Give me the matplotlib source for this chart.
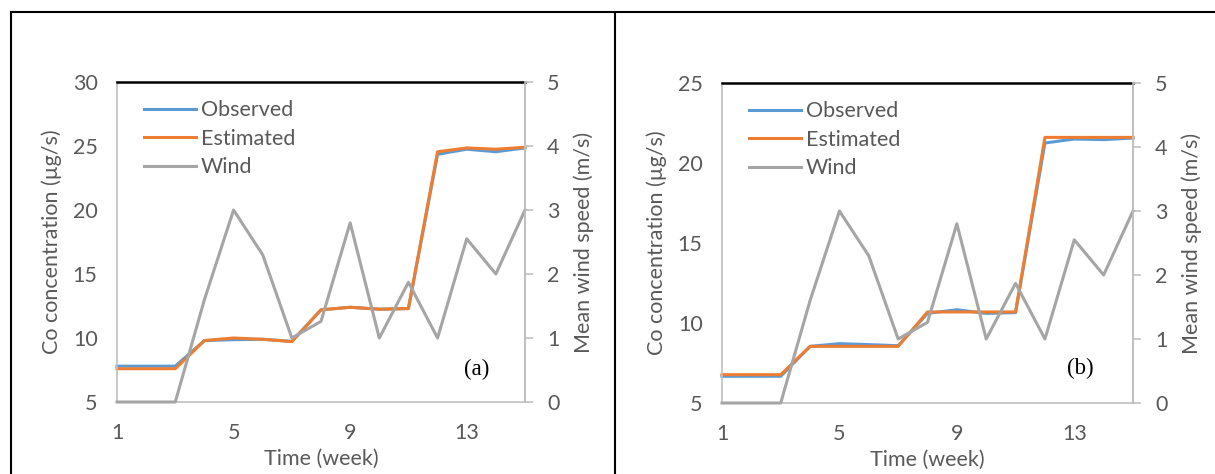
import matplotlib
matplotlib.use("Agg")
import matplotlib.pyplot as plt
from matplotlib.lines import Line2D

plt.rcParams['font.family'] = ['Lato', 'DejaVu Sans']

weeks = list(range(1, 16))
wind = [0, 0, 0, 1.6, 3.0, 2.3, 1.0, 1.26, 2.8, 1.0, 1.87, 1.0, 2.55, 2.0, 3.0]

obs_a = [7.8, 7.8, 7.8, 9.8, 9.87, 9.9, 9.74, 12.2, 12.4, 12.25, 12.3, 24.35, 24.75, 24.55, 24.85]
est_a = [7.6, 7.6, 7.6, 9.8, 10.0, 9.9, 9.72, 12.2, 12.4, 12.25, 12.3, 24.55, 24.85, 24.75, 24.9]

obs_b = [6.67, 6.67, 6.67, 8.54, 8.71, 8.65, 8.58, 10.6, 10.83, 10.6, 10.65, 21.25, 21.5, 21.46, 21.56]
est_b = [6.77, 6.77, 6.77, 8.54, 8.54, 8.54, 8.54, 10.69, 10.69, 10.69, 10.69, 21.6, 21.6, 21.6, 21.6]

panels = [
    dict(obs=obs_a, est=est_a, ylim=(5, 30), yticks=[5, 10, 15, 20, 25, 30], tag="(a)",
         tagpos=(0.882, 0.103), rect=[117 / 1215, 1 - 402 / 474, 408 / 1215, 320 / 474]),
    dict(obs=obs_b, est=est_b, ylim=(5, 25), yticks=[5, 10, 15, 20, 25], tag="(b)",
         tagpos=(0.871, 0.109), rect=[722 / 1215, 1 - 403 / 474, 411 / 1215, 320 / 474]),
]

BLUE, ORANGE, GRAY = '#5B9BD5', '#ED7D31', '#A5A5A5'
TXT = '#595959'
AX = '#BFBFBF'
FS = 15.5

fig = plt.figure(figsize=(12.15, 4.74), dpi=100)

# table borders
fig.add_artist(Line2D([11 / 1215, 1], [1 - 12 / 474] * 2, color='black', lw=1.5))
fig.add_artist(Line2D([11 / 1215] * 2, [0, 1 - 12 / 474], color='black', lw=1.5))
fig.add_artist(Line2D([615 / 1215] * 2, [0, 1 - 12 / 474], color='black', lw=1.5))

for p in panels:
    ax = fig.add_axes(p["rect"])
    l1, = ax.plot(weeks, p["obs"], color=BLUE, lw=2.2, label='Observed', clip_on=False)
    l2, = ax.plot(weeks, p["est"], color=ORANGE, lw=2.2, label='Estimated', clip_on=False)
    ax.set_xlim(1, 15)
    ax.set_ylim(*p["ylim"])
    ax.set_yticks(p["yticks"])
    ax.set_xticks([1, 5, 9, 13])
    ax.tick_params(axis='both', length=0, labelsize=FS, labelcolor=TXT)
    ax.tick_params(axis='y', pad=14)
    ax.tick_params(axis='x', pad=15)
    for s in ['left', 'bottom', 'right']:
        ax.spines[s].set_color(AX)
        ax.spines[s].set_linewidth(1.2)
    ax.spines['top'].set_color('black')
    ax.spines['top'].set_linewidth(1.8)
    ax.set_ylabel('Co concentration (µg/s)', fontsize=FS, color=TXT, labelpad=8)
    ax.set_xlabel('Time (week)', fontsize=FS, color=TXT, labelpad=4)

    ax2 = ax.twinx()
    l3, = ax2.plot(weeks, wind, color=GRAY, lw=2.2, label='Wind', clip_on=False)
    ax2.set_ylim(0, 5)
    ax2.set_yticks([0, 1, 2, 3, 4, 5])
    ax2.tick_params(axis='y', length=6, width=1.2, color=AX, direction='out',
                    labelsize=FS, labelcolor=TXT, pad=10)
    for s in ['left', 'bottom', 'top']:
        ax2.spines[s].set_visible(False)
    ax2.spines['right'].set_color(AX)
    ax2.spines['right'].set_linewidth(1.2)
    ax2.set_ylabel('Mean wind speed (m/s)', fontsize=FS, color=TXT, labelpad=10)

    ax2.legend(handles=[l1, l2, l3], loc='upper left', bbox_to_anchor=(0.045, 0.97),
               frameon=False, fontsize=FS, handlelength=2.4, handletextpad=0.25,
               labelspacing=0.4, borderaxespad=0, labelcolor=TXT)
    ax2.text(*p["tagpos"], p["tag"], transform=ax2.transAxes, ha='center', va='center',
             fontsize=16.5, family='Liberation Serif', color='black')

fig.savefig('out.png', dpi=100)
